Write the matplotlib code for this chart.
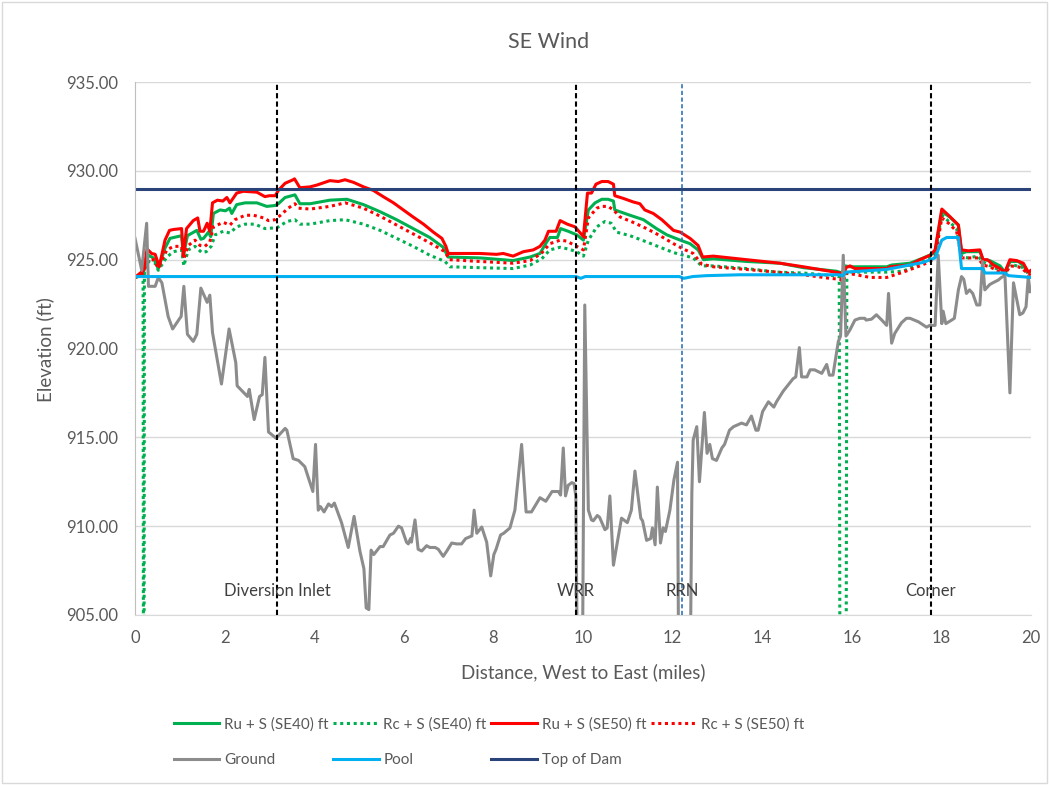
import numpy as np
import matplotlib.pyplot as plt
from matplotlib.patches import Rectangle

plt.rcParams['font.family'] = ['Lato', 'DejaVu Sans']

# ---- data (miles, ft) ----
ground_x = [0.00, 0.15, 0.26, 0.30, 0.45, 0.52, 0.60, 0.74, 0.84, 1.00, 1.03, 1.09, 1.17, 1.30, 1.38,
            1.47, 1.61, 1.67, 1.73, 1.93, 2.10, 2.25, 2.28, 2.51, 2.55, 2.66, 2.78, 2.84, 2.90, 2.98,
            3.15, 3.35, 3.39, 3.53, 3.65, 3.79, 3.97, 4.03, 4.09, 4.14, 4.22, 4.32, 4.39, 4.45, 4.61,
            4.76, 4.89, 5.02, 5.11, 5.16, 5.22, 5.27, 5.33, 5.47, 5.54, 5.69, 5.77, 5.88, 5.95, 6.06,
            6.10, 6.15, 6.17, 6.25, 6.32, 6.40, 6.51, 6.58, 6.70, 6.77, 6.88, 6.96, 7.07, 7.18, 7.29,
            7.38, 7.52, 7.57, 7.63, 7.74, 7.85, 7.94, 8.01, 8.06, 8.16, 8.23, 8.37, 8.48, 8.63, 8.73,
            8.85, 9.04, 9.17, 9.31, 9.45, 9.50, 9.56, 9.61, 9.67, 9.75, 9.80, 9.84, 9.90, 9.97, 10.04,
            10.12, 10.19, 10.23, 10.32, 10.37, 10.49, 10.54, 10.60, 10.68, 10.75, 10.86, 10.99, 11.08,
            11.16, 11.29, 11.33, 11.42, 11.51, 11.55, 11.61, 11.66, 11.73, 11.79, 11.84, 11.94, 12.03,
            12.11, 12.15, 12.37, 12.43, 12.46, 12.54, 12.60, 12.71, 12.77, 12.83, 12.89, 12.98, 13.10,
            13.16, 13.27, 13.36, 13.54, 13.65, 13.76, 13.86, 13.91, 14.01, 14.14, 14.26, 14.32, 14.47,
            14.69, 14.75, 14.83, 14.88, 15.00, 15.07, 15.17, 15.33, 15.44, 15.50, 15.58, 15.70, 15.75,
            15.81, 15.87, 15.96, 16.07, 16.18, 16.29, 16.32, 16.44, 16.55, 16.67, 16.78, 16.82, 16.89,
            16.96, 17.11, 17.22, 17.30, 17.49, 17.67, 17.74, 17.86, 17.93, 18.01, 18.04, 18.10, 18.23,
            18.29, 18.38, 18.45, 18.50, 18.56, 18.63, 18.70, 18.79, 18.86, 18.92, 18.97, 19.08, 19.15,
            19.27, 19.34, 19.42, 19.53, 19.61, 19.68, 19.75, 19.82, 19.89, 19.94, 19.98]
ground_y = [926.2, 924.4, 927.05, 923.5, 923.5, 924.0, 923.7, 921.8, 921.1, 921.7, 921.8, 923.5, 920.8, 920.4, 920.8,
            923.4, 922.6, 923.0, 920.9, 918.0, 921.1, 919.2, 917.9, 917.3, 917.7, 916.0, 917.3, 917.4, 919.5, 915.3,
            914.95, 915.5, 915.4, 913.8, 913.7, 913.35, 911.95, 914.6, 910.9, 911.1, 910.8, 911.25, 911.1, 911.3, 910.2,
            908.8, 910.55, 908.6, 907.6, 905.4, 905.3, 908.65, 908.4, 908.85, 908.85, 909.5, 909.6, 910.0, 909.9, 909.1,
            909.0, 909.3, 909.1, 910.35, 908.7, 908.6, 908.9, 908.8, 908.8, 908.7, 908.3, 908.6, 909.05, 909.0, 909.0,
            909.3, 909.45, 910.9, 909.6, 909.95, 909.1, 907.2, 908.4, 908.7, 909.5, 909.6, 909.9, 910.9, 914.6, 910.8,
            910.8, 911.6, 911.4, 911.95, 911.95, 911.75, 914.4, 911.7, 912.3, 912.45, 912.4, 911.7, 895.0, 895.0, 922.45,
            910.9, 910.35, 910.3, 910.6, 910.5, 909.8, 909.9, 911.7, 907.8, 908.85, 910.45, 910.2, 910.9,
            913.1, 910.45, 910.3, 909.2, 909.3, 909.9, 908.95, 912.2, 909.05, 909.9, 909.7, 910.9, 912.6,
            913.6, 895.0, 895.0, 911.85, 914.85, 915.6, 912.5, 916.4, 914.1, 914.6, 913.8, 913.7, 914.4,
            914.6, 915.4, 915.6, 915.8, 915.7, 916.2, 915.4, 915.4, 916.45, 917.0, 916.7, 917.0, 917.6,
            918.3, 918.4, 920.05, 918.4, 918.4, 918.8, 918.8, 918.6, 919.1, 918.5, 918.5, 920.4, 920.7,
            925.25, 920.7, 921.05, 921.6, 921.7, 921.7, 921.6, 921.65, 921.9, 921.6, 921.3, 923.1, 920.3,
            920.85, 921.45, 921.7, 921.7, 921.5, 921.2, 921.3, 921.3, 925.25, 921.4, 922.1, 921.4, 921.6,
            921.7, 923.3, 924.05, 923.9, 923.1, 923.3, 923.1, 922.45, 922.45, 924.9, 923.3, 923.6, 923.7,
            923.85, 924.0, 924.1, 917.5, 923.7, 922.8, 921.9, 922.0, 922.35, 924.05, 923.2]

ru50_x = [0.00, 0.19, 0.27, 0.37, 0.45, 0.54, 0.67, 0.77, 0.86, 1.04, 1.08, 1.15, 1.30, 1.40, 1.45, 1.53,
          1.61, 1.67, 1.73, 1.84, 1.96, 2.05, 2.12, 2.27, 2.42, 2.72, 2.90, 3.00, 3.13, 3.20, 3.35, 3.53,
          3.56, 3.68, 3.91, 4.06, 4.35, 4.54, 4.69, 4.88, 5.10, 5.32, 5.54, 5.77, 5.99, 6.21, 6.44, 6.66,
          6.85, 6.94, 6.99, 7.70, 8.07, 8.22, 8.44, 8.67, 8.89, 9.04, 9.15, 9.23, 9.40, 9.49, 9.65, 9.82,
          10.01, 10.10, 10.19, 10.29, 10.42, 10.56, 10.68, 10.71, 10.90, 11.12, 11.27, 11.38, 11.57, 11.76,
          12.02, 12.17, 12.39, 12.57, 12.67, 12.91, 13.65, 14.40, 14.92, 15.51, 15.74, 15.80, 15.87, 15.96,
          16.07, 16.78, 16.85, 17.30, 17.52, 17.75, 17.86, 18.01, 18.16, 18.38, 18.45, 18.60, 18.86, 18.93,
          19.03, 19.16, 19.31, 19.42, 19.53, 19.68, 19.83, 19.94, 20.0]
ru50_y = [924.0, 924.4, 925.6, 925.35, 925.3, 924.6, 926.1, 926.65, 926.7, 926.75, 925.2, 926.75, 927.2, 927.35, 926.6, 926.6,
          927.05, 926.6, 928.2, 928.35, 928.3, 928.5, 928.2, 928.75, 928.85, 928.8, 928.55, 928.6, 928.6, 928.9, 929.3, 929.5,
          929.55, 929.05, 929.1, 929.2, 929.45, 929.4, 929.5, 929.35, 929.1, 928.9, 928.55, 928.2, 927.8, 927.4, 927.0, 926.55,
          926.2, 925.75, 925.35, 925.35, 925.3, 925.35, 925.2, 925.45, 925.55, 925.75, 926.1, 926.6, 926.6, 927.2, 927.0, 926.85,
          926.3, 928.75, 928.75, 929.25, 929.4, 929.4, 929.25, 928.6, 928.45, 928.25, 928.15, 927.8, 927.6, 927.25,
          926.65, 926.55, 926.2, 925.8, 925.15, 925.2, 925.0, 924.8, 924.6, 924.35, 924.25, 923.95, 924.55, 924.65,
          924.5, 924.5, 924.6, 924.7, 925.0, 925.25, 925.55, 927.85, 927.5, 926.95, 925.55, 925.5, 925.55, 925.0,
          925.0, 924.7, 924.5, 924.3, 925.0, 924.95, 924.8, 924.3, 924.4]

ru40_x = [0.00, 0.19, 0.30, 0.41, 0.52, 0.67, 0.78, 1.04, 1.08, 1.17, 1.38, 1.47, 1.53, 1.64, 1.69, 1.75,
          1.90, 2.02, 2.11, 2.16, 2.27, 2.46, 2.72, 2.94, 3.13, 3.20, 3.35, 3.57, 3.68, 3.91, 4.35, 4.73,
          5.10, 5.47, 5.84, 6.21, 6.58, 6.88, 6.99, 7.70, 8.44, 8.82, 9.04, 9.19, 9.26, 9.43, 9.50, 9.67,
          9.86, 10.01, 10.12, 10.27, 10.42, 10.56, 10.68, 10.71, 11.05, 11.35, 11.64, 11.87, 12.17, 12.39,
          12.57, 12.69, 12.91, 13.65, 14.40, 14.92, 15.66, 15.78, 15.85, 15.96, 16.78, 16.89, 17.30, 17.60,
          17.78, 17.86, 18.01, 18.19, 18.38, 18.45, 18.56, 18.86, 18.93, 19.08, 19.31, 19.42, 19.53, 19.72,
          19.83, 19.94, 20.0]
ru40_y = [924.0, 924.3, 925.25, 925.1, 924.5, 925.65, 926.2, 926.35, 925.2, 926.35, 926.65, 926.15, 926.2, 926.55, 926.3, 927.6,
          927.8, 927.75, 927.9, 927.6, 928.1, 928.2, 928.2, 928.0, 928.05, 928.15, 928.5, 928.65, 928.15, 928.15, 928.35, 928.4,
          928.1, 927.7, 927.25, 926.75, 926.25, 925.7, 925.15, 925.1, 924.95, 925.15, 925.35, 926.0, 926.25, 926.25, 926.75, 926.6,
          926.4, 926.1, 927.8, 928.2, 928.4, 928.4, 928.3, 927.8, 927.5, 927.25, 926.75, 926.4, 926.1, 925.9,
          925.55, 925.0, 925.05, 924.9, 924.8, 924.55, 924.35, 924.25, 924.65, 924.6, 924.6, 924.7, 924.8, 925.1,
          925.3, 925.45, 927.7, 927.4, 926.95, 925.35, 925.45, 925.45, 925.0, 924.95, 924.65, 924.3, 924.9, 924.9,
          924.65, 924.3, 924.35]

rc50_x = [0.00, 0.15, 0.30, 0.41, 0.52, 0.71, 0.86, 1.04, 1.09, 1.19, 1.34, 1.45, 1.56, 1.67, 1.75, 1.97,
          2.12, 2.23, 2.46, 2.65, 2.87, 2.98, 3.13, 3.27, 3.42, 3.57, 3.65, 3.91, 4.35, 4.69, 5.10, 5.47,
          5.84, 6.21, 6.58, 6.92, 7.02, 7.70, 8.44, 8.82, 9.07, 9.26, 9.49, 9.63, 9.86, 10.01, 10.12, 10.31,
          10.42, 10.56, 10.68, 10.83, 11.12, 11.42, 11.72, 12.02, 12.24, 12.46, 12.65, 12.91, 13.65, 14.32,
          14.92, 15.51, 15.74, 15.81, 15.87, 16.10, 16.41, 16.78, 17.15, 17.52, 17.75, 17.86, 18.01, 18.16,
          18.34, 18.45, 18.82, 18.93, 19.08, 19.31, 19.42, 19.53, 19.72, 19.83, 19.94, 20.0]
rc50_y = [924.0, 924.15, 925.0, 925.0, 924.55, 925.55, 925.75, 925.75, 925.05, 925.8, 926.1, 925.8, 925.75, 926.0, 926.85, 927.1,
          926.95, 927.25, 927.5, 927.5, 927.35, 927.2, 927.25, 927.55, 927.9, 928.15, 927.9, 927.85, 928.0, 928.2, 927.9, 927.45,
          926.95, 926.45, 925.95, 925.45, 925.0, 924.9, 924.8, 924.95, 925.35, 925.9, 926.1, 926.05, 925.75, 925.55, 927.35, 927.9,
          928.0, 928.0, 927.8, 927.4, 927.1, 926.75, 926.35, 925.9, 925.6, 925.35, 924.75, 924.6, 924.45, 924.3,
          924.15, 923.95, 923.9, 923.75, 924.25, 924.15, 924.0, 924.0, 924.3, 924.65, 924.9, 925.15, 927.35, 927.05,
          926.6, 925.1, 925.1, 924.7, 924.6, 924.3, 924.15, 924.65, 924.6, 924.45, 924.15, 924.2]

rc40_x = [0.00, 0.18, 0.19, 0.20, 0.21, 0.30, 0.45, 0.52, 0.71, 0.86, 1.04, 1.09, 1.19, 1.34, 1.49, 1.59,
          1.70, 1.79, 1.97, 2.12, 2.27, 2.46, 2.68, 2.90, 3.17, 3.39, 3.57, 3.68, 3.91, 4.35, 4.69, 5.10,
          5.47, 5.84, 6.21, 6.58, 6.92, 7.03, 7.70, 8.44, 8.82, 9.08, 9.26, 9.49, 9.67, 9.86, 10.01, 10.12,
          10.31, 10.49, 10.63, 10.75, 11.05, 11.42, 11.72, 12.02, 12.24, 12.46, 12.65, 12.91, 13.65, 14.32,
          14.92, 15.60, 15.72, 15.74, 15.87, 15.89, 16.78, 17.15, 17.60, 17.82, 17.86, 18.01, 18.19, 18.34,
          18.45, 18.60, 18.82, 18.93, 19.31, 19.42, 19.53, 19.83, 19.94, 20.0]
rc40_y = [924.0, 924.1, 895.0, 895.0, 924.4, 924.9, 924.8, 924.4, 925.15, 925.45, 925.55, 924.65, 925.55, 925.75, 925.4, 925.45,
          925.75, 926.4, 926.6, 926.5, 926.85, 927.0, 927.0, 926.75, 926.8, 927.15, 927.25, 927.0, 927.0, 927.2, 927.25, 927.0,
          926.65, 926.2, 925.75, 925.25, 924.9, 924.6, 924.55, 924.5, 924.7, 925.05, 925.55, 925.7, 925.6, 925.45, 925.2, 926.1,
          926.85, 927.15, 927.05, 926.55, 926.35, 926.0, 925.7, 925.4, 925.25, 925.1, 924.65, 924.65, 924.5, 924.3,
          924.25, 924.1, 924.05, 895.0, 895.0, 924.3, 924.3, 924.35, 924.9, 925.2, 925.35, 927.5, 927.1, 926.75,
          925.15, 925.1, 925.2, 924.85, 924.4, 924.2, 924.75, 924.55, 924.2, 924.25]

pool_x = [0.00, 9.85, 9.95, 10.05, 12.15, 12.25, 12.45, 12.75, 13.50, 15.72, 15.80, 15.87, 16.78, 17.60,
          17.86, 18.01, 18.12, 18.38, 18.45, 18.93, 18.97, 19.42, 19.50, 20.00]
pool_y = [924.05, 924.05, 923.95, 924.05, 924.05, 923.95, 924.05, 924.1, 924.15, 924.15, 924.1, 924.3, 924.45, 924.85,
          925.1, 926.1, 926.25, 926.25, 924.5, 924.5, 924.25, 924.25, 924.1, 924.0]

dam_x = [0.0, 20.0]
dam_y = [929.0, 929.0]

marker_names = ['Diversion Inlet', 'WRR', 'RRN', 'Corner']
marker_x = [3.17, 9.84, 12.21, 17.77]
marker_colors = ['black', 'black', '#2E75B6', 'black']

# ---- figure ----
fig = plt.figure(figsize=(10.49, 7.85), dpi=100)
fig.patches.append(Rectangle((0.002, 0.002), 0.996, 0.996, transform=fig.transFigure,
                             fill=False, edgecolor='#D9D9D9', lw=1))
ax = fig.add_axes([0.1287, 0.2166, 0.8541, 0.6789])

green = '#00B050'
red = '#FF0000'
lw = 2.2
dots = (0, (1, 1.2))

l1, = ax.plot(ru40_x, ru40_y, color=green, lw=lw, label='Ru + S (SE40) ft')
l2, = ax.plot(rc40_x, rc40_y, color=green, lw=lw, ls=dots, label='Rc + S (SE40) ft')
l3, = ax.plot(ru50_x, ru50_y, color=red, lw=lw, label='Ru + S (SE50) ft')
l4, = ax.plot(rc50_x, rc50_y, color=red, lw=lw, ls=dots, label='Rc + S (SE50) ft')
l5, = ax.plot(ground_x, ground_y, color='#8C8C8C', lw=lw, label='Ground')
l6, = ax.plot(pool_x, pool_y, color='#00B0F0', lw=lw, label='Pool')
l7, = ax.plot(dam_x, dam_y, color='#2A4479', lw=lw, label='Top of Dam')

for name, xm, c in zip(marker_names, marker_x, marker_colors):
    ax.axvline(xm, color=c, lw=1.5 if c == 'black' else 1.2, ls=(0, (2.5, 1.5)), zorder=5)
    ax.text(xm, 906.35, name, ha='center', va='center', fontsize=12, color='#404040', zorder=6)

ax.set_xlim(0, 20)
ax.set_ylim(905, 935)
ax.set_xticks(np.arange(0, 21, 2))
ax.set_yticks(np.arange(905, 936, 5))
ax.set_yticklabels(['%.2f' % v for v in np.arange(905, 936, 5)])
ax.tick_params(length=0, labelsize=12, labelcolor='#595959')
ax.tick_params(axis='y', pad=12)
ax.tick_params(axis='x', pad=11)
ax.grid(axis='y', color='#D9D9D9', lw=1)
ax.set_axisbelow(True)
for s in ['top', 'right']:
    ax.spines[s].set_visible(False)
ax.spines['left'].set_color('#BFBFBF')
ax.spines['bottom'].set_color('#D9D9D9')

fig.text(549 / 1049, 1 - 42 / 785, 'SE Wind', ha='center', va='center', fontsize=15.5, color='#595959')
fig.text(45 / 1049, 1 - 350 / 785, 'Elevation (ft)', ha='center', va='center', rotation=90,
         fontsize=13.5, color='#595959')
fig.text(583 / 1049, 1 - 672 / 785, 'Distance, West to East (miles)', ha='center', va='center',
         fontsize=13.5, color='#595959')

handles = [l1, l5, l2, l6, l3, l7, l4]
fig.legend(handles, [h.get_label() for h in handles], ncol=4, loc='center',
           bbox_to_anchor=(489 / 1049, 1 - 742 / 785), frameon=False, fontsize=11,
           handlelength=3.0, handletextpad=0.3, columnspacing=0.3, labelspacing=1.4,
           labelcolor='#595959')

fig.savefig('out.png', dpi=100)
